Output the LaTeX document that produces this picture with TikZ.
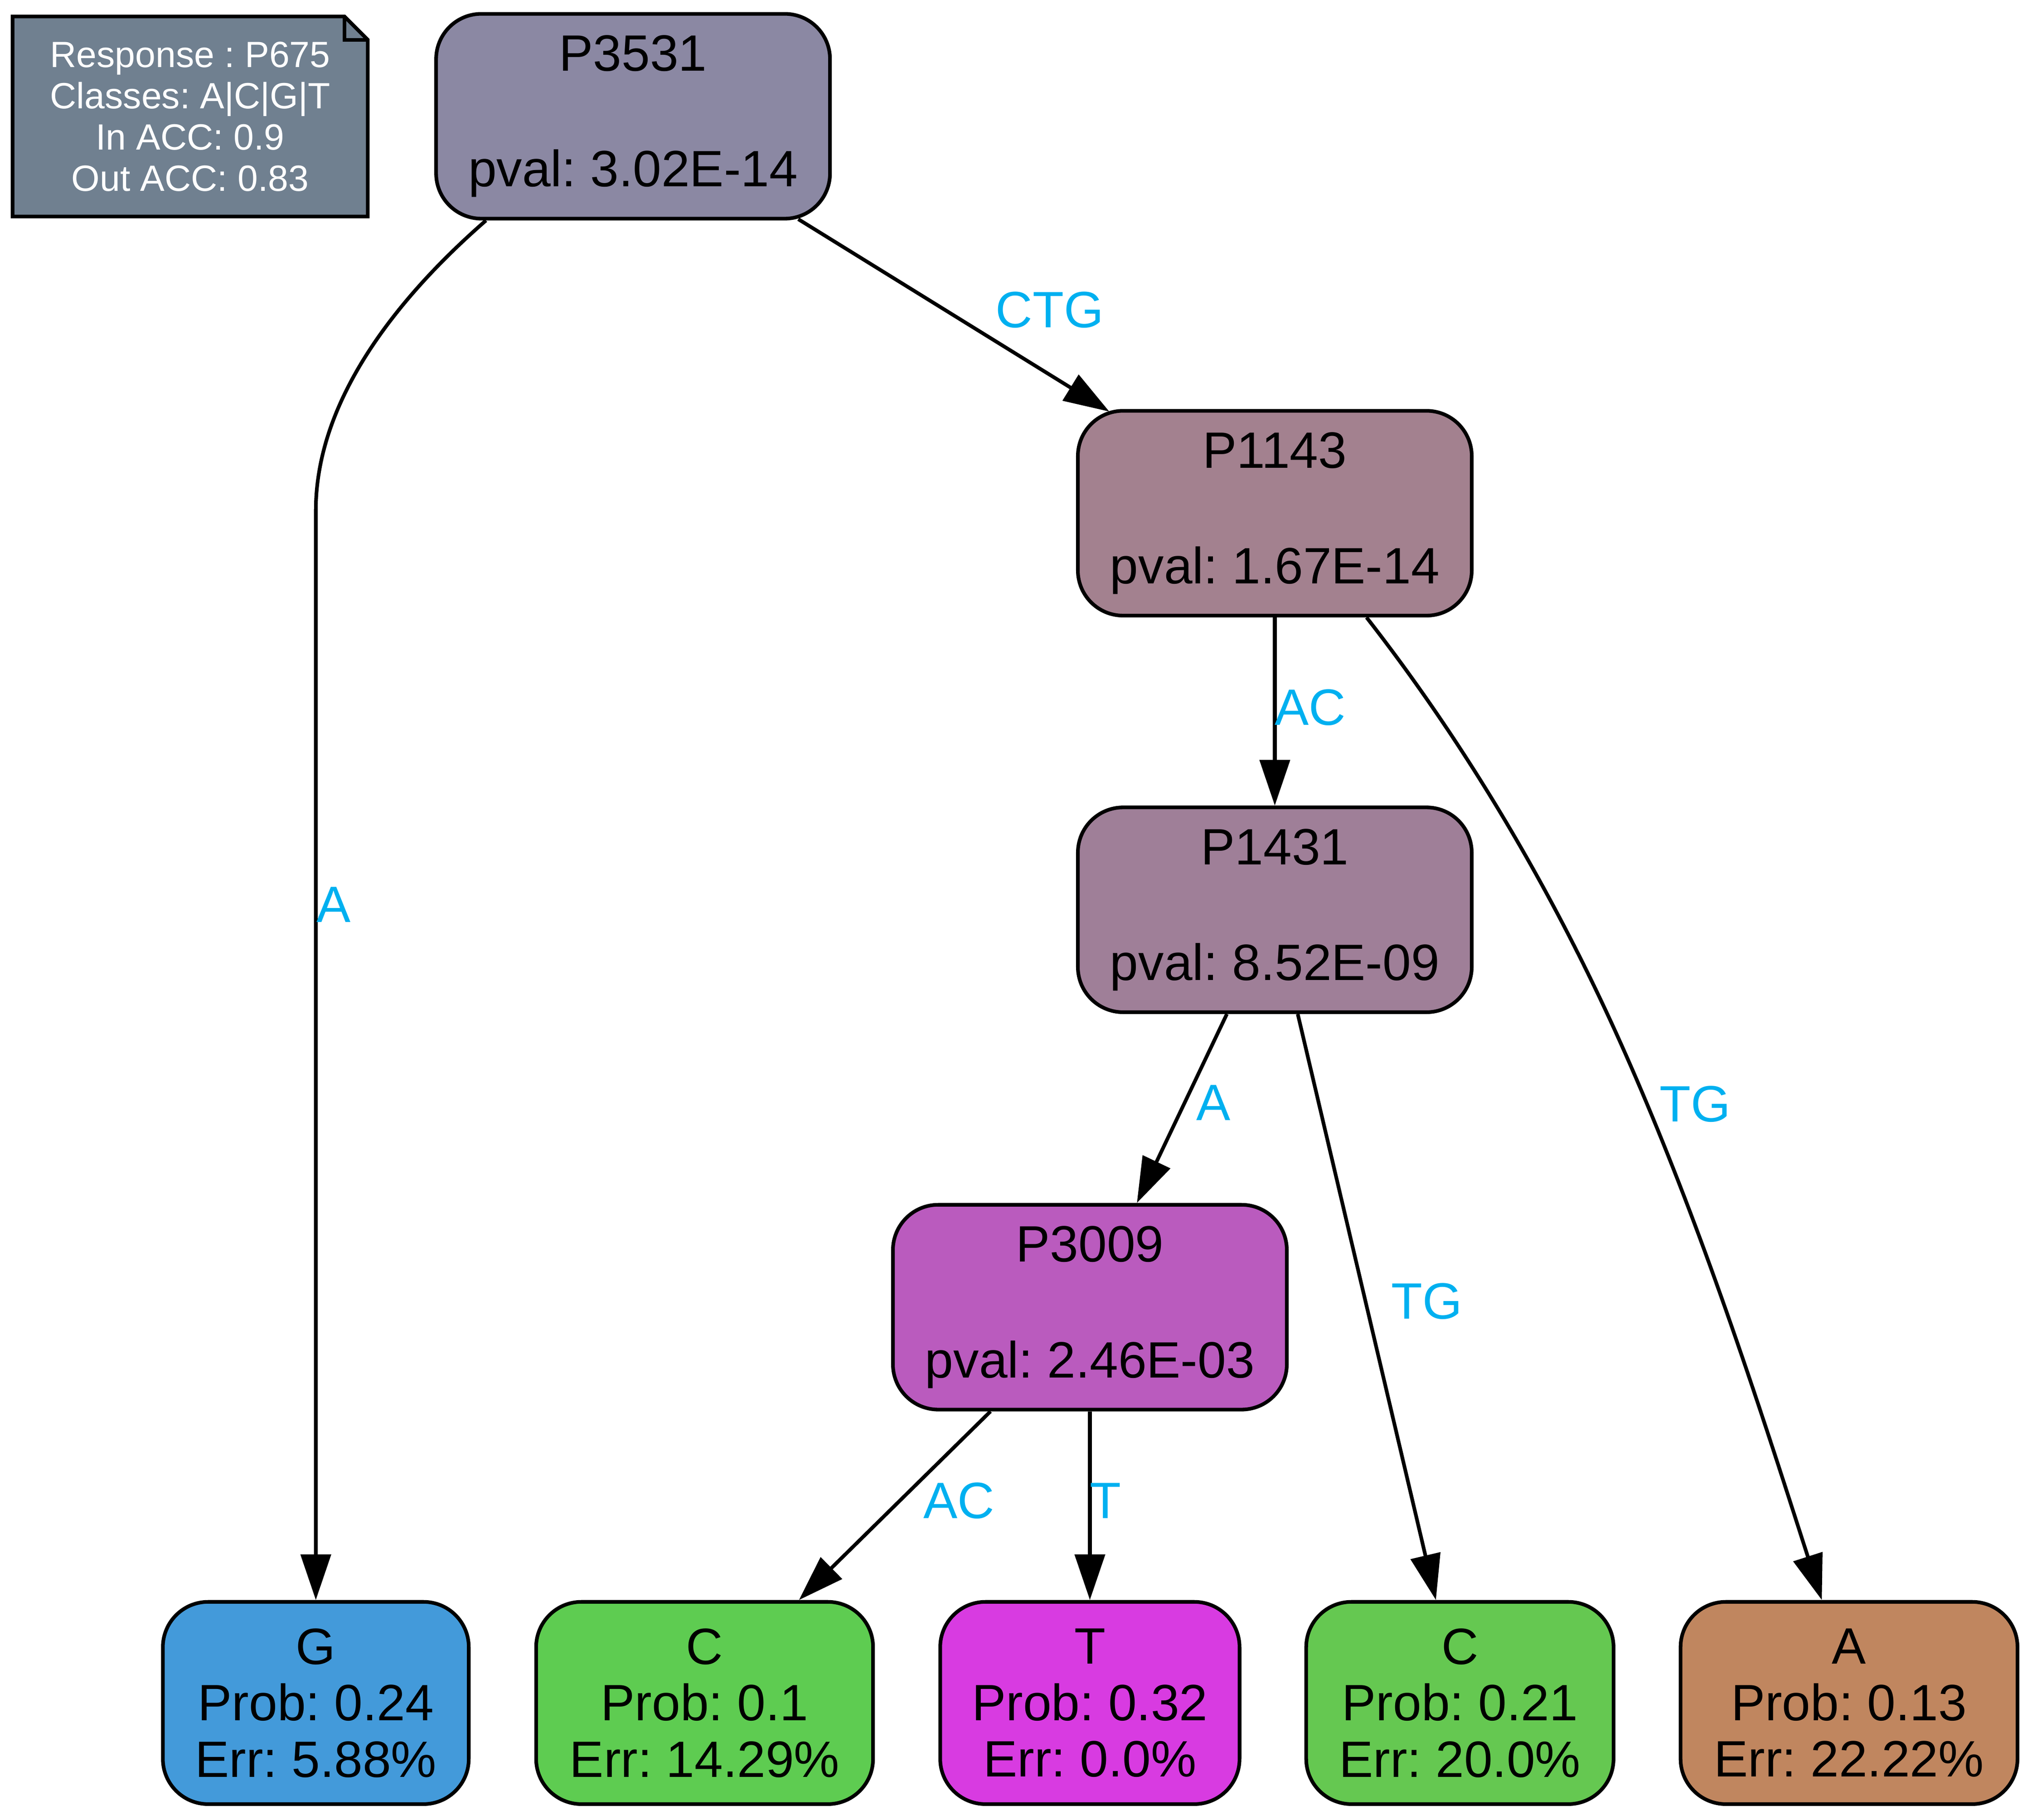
\documentclass[tikz,border=0pt]{standalone}
\usepackage{fontspec}
\setmainfont{Liberation Sans}
\frenchspacing
\usetikzlibrary{arrows.meta,calc,backgrounds}
\definecolor{cLegend}{RGB}{112,128,144}
\definecolor{cP3531}{RGB}{139,136,163}
\definecolor{cP1143}{RGB}{163,129,143}
\definecolor{cP1431}{RGB}{159,127,152}
\definecolor{cP3009}{RGB}{186,91,190}
\definecolor{cG}{RGB}{67,154,218}
\definecolor{cC1}{RGB}{94,204,81}
\definecolor{cT}{RGB}{216,59,225}
\definecolor{cC2}{RGB}{101,200,81}
\definecolor{cA}{RGB}{192,134,95}
\definecolor{cLabel}{RGB}{0,176,240}
\begin{document}
\frenchspacing
\begin{tikzpicture}[x=0.355pt,y=-0.355pt,
  box/.style={draw=black, line width=1pt, rounded corners=12.4pt, inner sep=0pt, align=center},
  pbox/.style={box, minimum width=107.9pt, minimum height=56.1pt, font=\fontsize{14}{15.85}\selectfont},
  leaf/.style={box, minimum height=55.4pt, font=\fontsize{14}{15.45}\selectfont},
  lbl/.style={text=cLabel, font=\fontsize{14}{16}\selectfont, inner sep=0pt},
  edge/.style={draw=black, line width=1pt, -{Triangle[length=12.5pt,width=8.2pt]}},
]
\useasboundingbox (0,0) rectangle (1568,1404);

% legend
\node (legend) [font=\fontsize{10}{11.3}\selectfont, text=white, align=center, inner sep=0pt,
  minimum width=96.9pt, minimum height=54.4pt] at (146.75,89.9)
  {Response : P675\\Classes: A|C|G|T\\In ACC: 0.9\\Out ACC: 0.83};
\begin{scope}[on background layer]
  \filldraw[fill=cLegend, draw=black, line width=1pt]
    (legend.north west) -- ($(legend.north east)+(-18,0)$) -- ($(legend.north east)+(0,18)$)
    -- (legend.south east) -- (legend.south west) -- cycle;
  \draw[line width=1pt] ($(legend.north east)+(-18,0)$) -- ($(legend.north east)+(-18,18)$)
    -- ($(legend.north east)+(0,18)$);
\end{scope}

% inner nodes
\node (P3531) [pbox, fill=cP3531] at (488.5,89.7) {P3531\\[15.85pt]pval: 3.02E-14};
\node (P1143) [pbox, fill=cP1143] at (983.7,396) {P1143\\[15.85pt]pval: 1.67E-14};
\node (P1431) [pbox, fill=cP1431] at (983.7,702) {P1431\\[15.85pt]pval: 8.52E-09};
\node (P3009) [pbox, fill=cP3009] at (841,1008.6) {P3009\\[15.85pt]pval: 2.46E-03};

% leaves
\node (G)  [leaf, fill=cG,  minimum width=83.8pt] at (243.7,1314) {G\\Prob: 0.24\\Err: 5.88\%};
\node (C1) [leaf, fill=cC1, minimum width=92.3pt] at (543.7,1314) {C\\Prob: 0.1\\Err: 14.29\%};
\node (T)  [leaf, fill=cT,  minimum width=82.0pt] at (841,1314) {T\\Prob: 0.32\\Err: 0.0\%};
\node (C2) [leaf, fill=cC2, minimum width=84.2pt] at (1126.5,1314) {C\\Prob: 0.21\\Err: 20.0\%};
\node (A)  [leaf, fill=cA,  minimum width=92.3pt] at (1426.8,1314) {A\\Prob: 0.13\\Err: 22.22\%};

% edges
\draw[edge] ($(P3531.south)+(-113.5,0)$) .. controls (320,218) and (243.7,300) .. (243.7,394) -- (G.north);
\draw[edge] ($(P3531.south)+(127.5,-1)$) -- ($(P1143.north)+(-127.7,2)$);
\draw[edge] (P1143.south) -- (P1431.north);
\draw[edge] ($(P1143.south)+(70.8,0)$) .. controls (1132,575.7) and (1198,687.8) .. (1250,803.6)
  .. controls (1313,944) and (1360,1092.5) .. ($(A.north)+(-21,0)$);
\draw[edge] ($(P1431.south)+(-37,0)$) -- ($(P3009.north)+(36.3,0)$);
\draw[edge] ($(P1431.south)+(17.7,0)$) -- ($(C2.north)+(-18.5,0)$);
\draw[edge] ($(P3009.south)+(-76.7,0)$) -- ($(C1.north)+(72.8,0)$);
\draw[edge] (P3009.south) -- (T.north);

% edge labels
\node (lA1)  [lbl] at (257.5,698) {A};
\node (lCTG) [lbl] at (810,239) {CTG};
\node (lAC1) [lbl] at (1011,546) {AC};
\node (lTG1) [lbl] at (1308,852) {TG};
\node (lA2)  [lbl] at (936.5,851) {A};
\node (lTG2) [lbl] at (1101,1004) {TG};
\node (lAC2) [lbl] at (740,1158) {AC};
\node (lT)   [lbl] at (853,1158) {T};
\end{tikzpicture}
\end{document}
